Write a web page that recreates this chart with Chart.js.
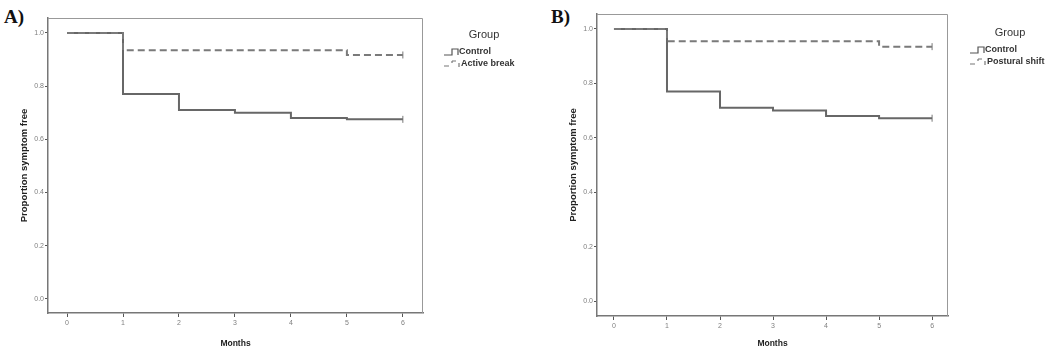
<!DOCTYPE html>
<html>
<head>
<meta charset="utf-8">
<script src="https://cdn.jsdelivr.net/npm/chart.js@4"></script>
<style>
  body { margin: 0; background: #fff; width: 1055px; height: 349px; position: relative; overflow: hidden; }
  canvas { position: absolute; top: 0; }
  .panel { position: absolute; top: 6px; font: bold 19px "Liberation Serif", "Times New Roman", serif; color: #111; }
</style>
</head>
<body>
<div class="panel" style="left:4px">A)</div>
<div class="panel" style="left:551px">B)</div>
<canvas id="chartA" width="527" height="349" style="left:0"></canvas>
<canvas id="chartB" width="528" height="349" style="left:527px"></canvas>
<script>
// data
var months = [0, 1, 2, 3, 4, 5, 6];
var monthTicks = [0, 1, 2, 3, 4, 5, 6];
var propTicks = [0, 0.2, 0.4, 0.6, 0.8, 1.0];

var controlA = [1.0, 0.77, 0.71, 0.70, 0.68, 0.675, 0.675];
var activeBreak = [1.0, 0.935, 0.935, 0.935, 0.935, 0.917, 0.917];
var controlB = [1.0, 0.77, 0.71, 0.70, 0.68, 0.672, 0.672];
var posturalShift = [1.0, 0.955, 0.955, 0.955, 0.955, 0.935, 0.935];

var groupNames = ['Control', 'Active break', 'Postural shift'];

function pts(arr) {
    return months.map(function (m, i) { return { x: m, y: arr[i] }; });
}
function lastPt(arr) {
    return [{ x: months[months.length - 1], y: arr[arr.length - 1] }];
}

var legendPlugin = {
    id: 'kmLegend',
    afterDraw: function (chart, args, opts) {
        var ctx = chart.ctx;
        ctx.save();
        ctx.fillStyle = '#333';
        ctx.font = '11px "Liberation Sans", Arial, sans-serif';
        ctx.textAlign = 'center';
        ctx.textBaseline = 'middle';
        ctx.fillText('Group', opts.x + 40, opts.y);
        ctx.textAlign = 'left';
        ctx.font = 'bold 9px "Liberation Sans", Arial, sans-serif';
        var x0 = opts.x, y1 = opts.y + 17, y2 = opts.y + 29;
        // solid step icon
        ctx.strokeStyle = '#555';
        ctx.lineWidth = 1.2;
        ctx.beginPath();
        ctx.moveTo(x0, y1 + 3); ctx.lineTo(x0 + 8, y1 + 3); ctx.lineTo(x0 + 8, y1 - 3);
        ctx.lineTo(x0 + 14, y1 - 3); ctx.lineTo(x0 + 14, y1 + 3);
        ctx.stroke();
        ctx.fillText(groupNames[0], x0 + 15, y1);
        // dashed step icon
        ctx.strokeStyle = '#777';
        ctx.beginPath();
        ctx.moveTo(x0, y2 + 2); ctx.lineTo(x0 + 5, y2 + 2);
        ctx.moveTo(x0 + 8, y2 - 3); ctx.lineTo(x0 + 8, y2 - 1);
        ctx.moveTo(x0 + 8, y2 - 3); ctx.lineTo(x0 + 12, y2 - 3);
        ctx.moveTo(x0 + 15, y2 - 1); ctx.lineTo(x0 + 15, y2 + 3);
        ctx.stroke();
        ctx.fillText(opts.second, x0 + 17, y2);
        ctx.restore();
    }
};

var boxPlugin = {
    id: 'plotBox',
    afterDraw: function (chart) {
        var a = chart.chartArea, ctx = chart.ctx;
        ctx.save();
        ctx.strokeStyle = '#999';
        ctx.lineWidth = 1;
        ctx.beginPath();
        ctx.moveTo(a.left, a.top + 0.5); ctx.lineTo(a.right - 0.5, a.top + 0.5); ctx.lineTo(a.right - 0.5, a.bottom);
        ctx.stroke();
        ctx.restore();
    }
};

function makeChart(id, ctrl, other, cfg) {
    var tickFont = { size: 7, family: '"Liberation Sans", Arial, sans-serif' };
    var xTitleFont = { size: 8.5, weight: 'bold', family: '"Liberation Sans", Arial, sans-serif' };
    var yTitleFont = { size: 9.5, weight: 'bold', family: '"Liberation Sans", Arial, sans-serif' };
    return new Chart(document.getElementById(id).getContext('2d'), {
        type: 'line',
        data: {
            datasets: [{
                data: pts(other), stepped: 'before', borderColor: '#7a7a7a', borderWidth: 2,
                borderDash: [7, 4], pointRadius: 0, fill: false
            }, {
                data: pts(ctrl), stepped: 'before', borderColor: '#676767', borderWidth: 2,
                pointRadius: 0, fill: false
            }, {
                data: lastPt(other).concat(lastPt(ctrl)), showLine: false, pointStyle: 'line',
                rotation: 90, pointRadius: 3.5, borderColor: '#777', borderWidth: 1
            }]
        },
        options: {
            responsive: false,
            animation: false,
            layout: { padding: { top: cfg.top, right: cfg.right, left: 0, bottom: 0 } },
            plugins: { legend: { display: false }, tooltip: { enabled: false }, kmLegend: cfg.legend },
            scales: {
                x: {
                    type: 'linear', min: cfg.xmin, max: cfg.xmax,
                    afterBuildTicks: function (s) { s.ticks = monthTicks.map(function (v) { return { value: v }; }); },
                    afterFit: function (s) { s.height = cfg.xh; },
                    grid: { drawOnChartArea: false, tickLength: 4, color: '#555', tickWidth: 1 },
                    border: { color: '#777', width: 1.5 },
                    ticks: { font: tickFont, color: '#808080', padding: 2, maxRotation: 0 },
                    title: { display: true, text: 'Months', font: xTitleFont, color: '#222', padding: { top: 7, bottom: 0 } }
                },
                y: {
                    type: 'linear', min: cfg.ymin, max: cfg.ymax,
                    afterBuildTicks: function (s) { s.ticks = propTicks.map(function (v) { return { value: v }; }); },
                    afterFit: function (s) { s.width = cfg.yw; },
                    grid: { drawOnChartArea: false, tickLength: 3, color: '#555', tickWidth: 1 },
                    border: { color: '#777', width: 1.5 },
                    ticks: { font: tickFont, color: '#808080', padding: 1, callback: function (v) { return v.toFixed(1); } },
                    title: { display: true, text: 'Proportion symptom free', font: yTitleFont, color: '#222', padding: { top: cfg.ytp, bottom: 0 } }
                }
            }
        },
        plugins: [legendPlugin, boxPlugin]
    });
}

makeChart('chartA', controlA, activeBreak, {
    top: 18, right: 104, xh: 36, yw: 48, ytp: 19,
    xmin: -0.34, xmax: 6.36, ymin: -0.053, ymax: 1.056,
    legend: { x: 444, y: 35, second: groupNames[1] }
});
makeChart('chartB', controlB, posturalShift, {
    top: 14, right: 107, xh: 33, yw: 70, ytp: 41,
    xmin: -0.32, xmax: 6.3, ymin: -0.055, ymax: 1.055,
    legend: { x: 443, y: 33, second: groupNames[2] }
});
</script>
</body>
</html>
